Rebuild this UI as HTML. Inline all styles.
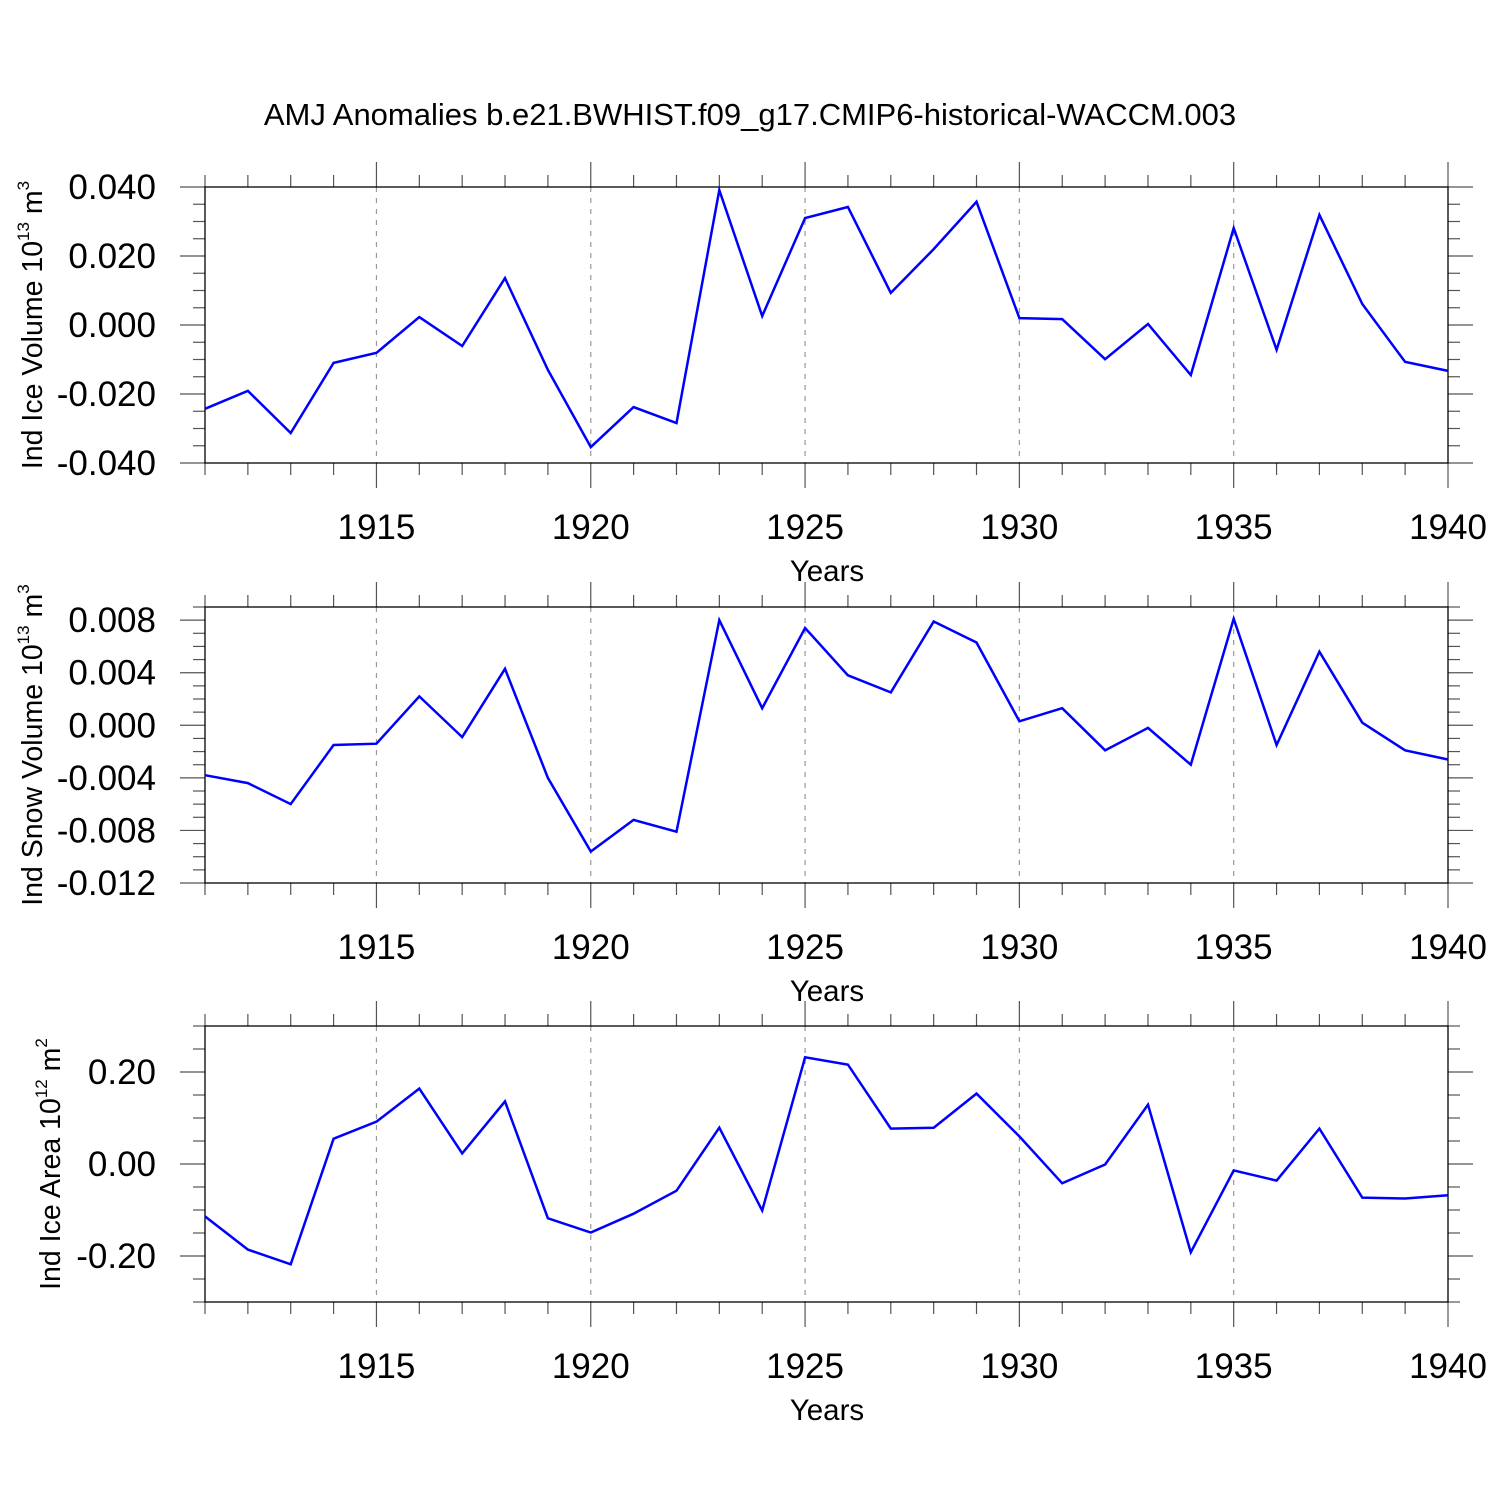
<!DOCTYPE html>
<html><head><meta charset="utf-8"><style>
html,body{margin:0;padding:0;background:#fff}
svg{display:block}
text{font-family:"Liberation Sans",Arial,sans-serif;fill:#000}
</style></head><body>
<svg id="chart" width="1500" height="1500" viewBox="0 0 1500 1500" xmlns="http://www.w3.org/2000/svg">
<text x="750" y="125" font-size="31" text-anchor="middle">AMJ Anomalies b.e21.BWHIST.f09_g17.CMIP6-historical-WACCM.003</text>
</svg>
<script>
const years = [1911,1912,1913,1914,1915,1916,1917,1918,1919,1920,1921,1922,1923,1924,1925,1926,1927,1928,1929,1930,1931,1932,1933,1934,1935,1936,1937,1938,1939,1940];
const iceVolume = [-0.0243,-0.0191,-0.0313,-0.0110,-0.0081,0.0023,-0.0061,0.0136,-0.0130,-0.0354,-0.0238,-0.0284,0.0391,0.0026,0.0310,0.0342,0.0093,0.0220,0.0357,0.0020,0.0017,-0.0099,0.0003,-0.0145,0.0281,-0.0072,0.0319,0.0061,-0.0107,-0.0133];
const snowVolume = [-0.0038,-0.0044,-0.0060,-0.0015,-0.0014,0.0022,-0.0009,0.0043,-0.0040,-0.0096,-0.0072,-0.0081,0.0080,0.0013,0.0074,0.0038,0.0025,0.0079,0.0063,0.0003,0.0013,-0.0019,-0.0002,-0.0030,0.0081,-0.0015,0.0056,0.0002,-0.0019,-0.0026];
const iceArea = [-0.114,-0.186,-0.218,0.055,0.092,0.164,0.023,0.136,-0.118,-0.149,-0.108,-0.058,0.079,-0.101,0.232,0.216,0.077,0.079,0.153,0.060,-0.042,-0.001,0.129,-0.192,-0.014,-0.036,0.077,-0.073,-0.075,-0.068];
const xTickLabels = ["1915","1920","1925","1930","1935","1940"];
const iceVolTicks = ["0.040","0.020","0.000","-0.020","-0.040"];
const snowTicks = ["0.008","0.004","0.000","-0.004","-0.008","-0.012"];
const areaTicks = ["0.20","0.00","-0.20"];

const svg = document.getElementById('chart');
const NS = 'http://www.w3.org/2000/svg';
function mk(tag, attrs, parent){const e=document.createElementNS(NS,tag);for(const k in attrs)e.setAttribute(k,attrs[k]);(parent||svg).appendChild(e);return e;}
const L=205,R=1448,X0=1911,X1=1940;
const xs = v => L+(v-X0)/(X1-X0)*(R-L);

function panel(name, top, ymin, ymax, majorStep, minorStep, labels, values, titleMain, sup, unit, titleX){
  const bot = top+276;
  const ys = v => bot-(v-ymin)/(ymax-ymin)*(bot-top);
  const g = mk('g',{});
  
  
  for(let yr=1915; yr<1940; yr+=5){
    const gl=mk('line',{x1:xs(yr),x2:xs(yr),y1:top,y2:bot,stroke:'#999','stroke-width':1.2,'stroke-dasharray':'5,6'},g);
    
    
  }
  for(let yr=X0; yr<=X1; yr++){
    const maj = yr%5===0; const len = maj?25:12;
    mk('line',{x1:xs(yr),x2:xs(yr),y1:top,y2:top-len,stroke:'#555','stroke-width':1.2},g);
    mk('line',{x1:xs(yr),x2:xs(yr),y1:bot,y2:bot+len,stroke:'#555','stroke-width':1.2},g);
  }
  const n = Math.round((ymax-ymin)/minorStep);
  for(let i=0;i<=n;i++){
    const v = ymin+i*minorStep;
    const maj = Math.abs(v/majorStep-Math.round(v/majorStep))<1e-6;
    const len = maj?25:12;
    mk('line',{x1:L,x2:L-len,y1:ys(v),y2:ys(v),stroke:'#555','stroke-width':1.2},g);
    mk('line',{x1:R,x2:R+len,y1:ys(v),y2:ys(v),stroke:'#555','stroke-width':1.2},g);
  }
  const fr = mk('rect',{x:L,y:top,width:R-L,height:bot-top,fill:'none',stroke:'#000','stroke-width':1.3},g);
  
  
  labels.forEach(s=>{
    const t=mk('text',{x:156,y:ys(parseFloat(s))+12,'font-size':35,'text-anchor':'end'},g);
    
    
    t.textContent=s;
  });
  xTickLabels.forEach(s=>{
    const t=mk('text',{x:xs(parseFloat(s)),y:bot+76,'font-size':35,'text-anchor':'middle'},g);
    
    
    t.textContent=s;
  });
  const xt=mk('text',{x:827,y:bot+118,'font-size':29.5,'text-anchor':'middle'},g);
  
  
  xt.textContent='Years';
  const cy=(top+bot)/2;
  const yt=mk('text',{x:0,y:0,'font-size':28.5,'text-anchor':'middle',transform:`translate(${titleX},${cy}) rotate(-90)`},g);
  
  
  yt.appendChild(document.createTextNode(titleMain+' 10'));
  const ts=document.createElementNS(NS,'tspan'); ts.setAttribute('font-size','17'); ts.setAttribute('dy','-13'); ts.textContent=sup; yt.appendChild(ts);
  const tu=document.createElementNS(NS,'tspan'); tu.setAttribute('dy','13'); tu.textContent=' m'; yt.appendChild(tu);
  const tu2=document.createElementNS(NS,'tspan'); tu2.setAttribute('font-size','17'); tu2.setAttribute('dy','-13'); tu2.textContent=unit; yt.appendChild(tu2);
  const pts = values.map((v,i)=>xs(years[i]).toFixed(1)+','+ys(v).toFixed(1)).join(' ');
  const pl = mk('polyline',{points:pts,fill:'none',stroke:'#0000ff','stroke-width':2.5,'stroke-linejoin':'miter'},g);
  
  
}
panel('ice-volume',187,-0.04,0.04,0.02,0.005,iceVolTicks,iceVolume,'Ind Ice Volume','13','3',42);
panel('snow-volume',607,-0.012,0.009,0.004,0.001,snowTicks,snowVolume,'Ind Snow Volume','13','3',42);
panel('ice-area',1026,-0.3,0.3,0.2,0.05,areaTicks,iceArea,'Ind Ice Area','12','2',60);
</script>
</body></html>
